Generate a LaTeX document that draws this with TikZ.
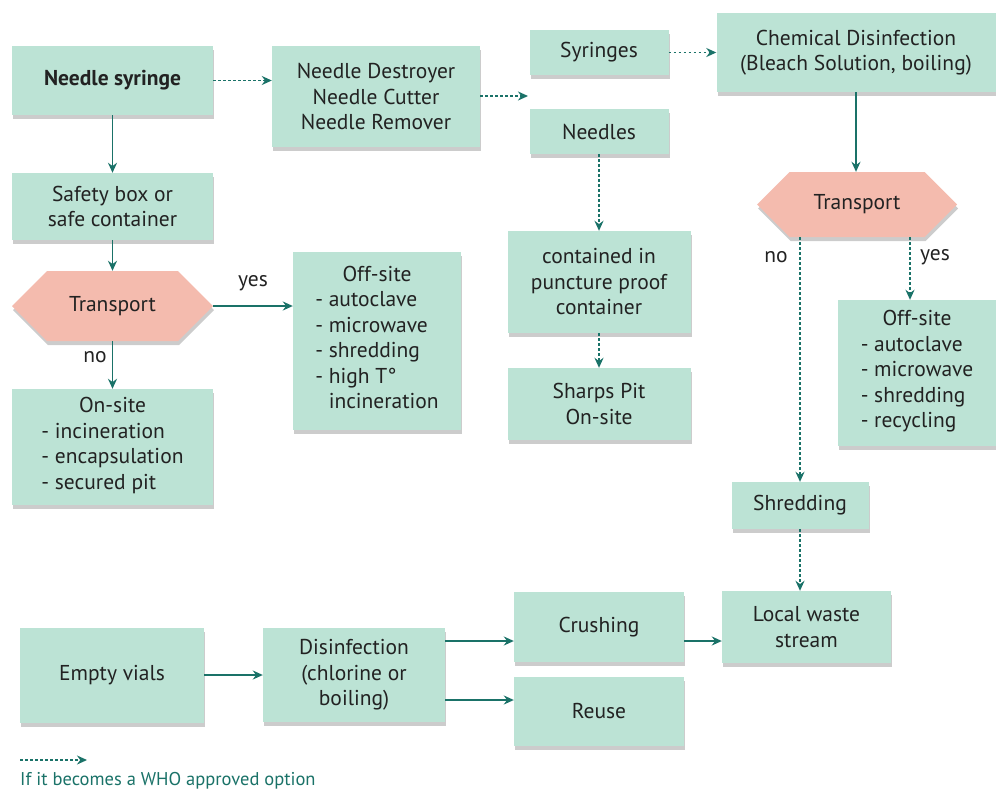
\documentclass[tikz,border=0pt]{standalone}
\usepackage{fontspec}
\setmainfont{PT Sans}
\usetikzlibrary{shapes.symbols,shadows,arrows.meta}
\definecolor{boxfill}{HTML}{BCE3D5}
\definecolor{hexfill}{HTML}{F4BBAE}
\definecolor{arrowc}{HTML}{1A7268}
\definecolor{txt}{HTML}{222222}
\tikzset{
  box/.style={rectangle, fill=boxfill, draw=none, text=txt, align=center, inner sep=0pt,
    drop shadow={shadow xshift=1pt, shadow yshift=-4pt, opacity=0.4},
    font=\fontsize{21.5}{25.5}\selectfont},
  hexbox/.style={signal, signal to=west and east, fill=hexfill, draw=none, text=txt, inner sep=0pt,
    drop shadow={shadow xshift=1pt, shadow yshift=-4pt, opacity=0.4},
    font=\fontsize{21.5}{25.5}\selectfont},
  solidarrow/.style={draw=arrowc, line width=1.8pt, -{Stealth[length=10pt,width=9pt]}},
  dotarrow/.style={solidarrow, dash pattern=on 2.5pt off 2.5pt},
  lbl/.style={text=txt, inner sep=0pt, font=\fontsize{21.5}{25.5}\selectfont}
}
\begin{document}
\begin{tikzpicture}[x=1pt,y=1pt]
\useasboundingbox (0,0) rectangle (996,-796);
\node[box, minimum width=201, minimum height=69] (ns) at (112.5,-80.5) {\bfseries Needle syringe};
\node[box, minimum width=208, minimum height=101] (nd) at (376,-96.5) {Needle Destroyer\\Needle Cutter\\Needle Remover};
\node[box, minimum width=139, minimum height=45] (syr) at (599,-52.5) {Syringes};
\node[box, minimum width=139, minimum height=45] (ndl) at (599,-131.5) {Needles};
\node[box, minimum width=279, minimum height=79] (chem) at (856,-52.5) {Chemical Disinfection\\(Bleach Solution, boiling)};
\node[hexbox, minimum width=200, minimum height=65] (trR) at (857,-204.5) {Transport};
\node[box, minimum width=201, minimum height=67] (sb) at (112.5,-206.5) {Safety box or\\safe container};
\node[hexbox, minimum width=201, minimum height=70] (trL) at (112.5,-306) {Transport};
\node[box, minimum width=201, minimum height=116] (on) at (112.5,-447) {On-site\\\begin{tabular}[t]{@{}l@{}}- incineration\\- encapsulation\\- secured pit\end{tabular}};
\node[box, minimum width=168, minimum height=178] (offL) at (377,-341) {Off-site\\\begin{tabular}[t]{@{}l@{}}- autoclave\\- microwave\\- shredding\\- high T°\\\phantom{- }incineration\end{tabular}};
\node[box, minimum width=183, minimum height=102] (cont) at (599,-282) {contained in\\puncture proof\\container};
\node[box, minimum width=183, minimum height=72] (sharp) at (599,-404) {Sharps Pit\\On-site};
\node[box, minimum width=158, minimum height=146] (offR) at (917,-373) {Off-site\\\begin{tabular}[t]{@{}l@{}}- autoclave\\- microwave\\- shredding\\- recycling\end{tabular}};
\node[box, minimum width=137, minimum height=47] (shred) at (800,-505.5) {Shredding};
\node[box, minimum width=169, minimum height=72] (local) at (806.5,-627) {Local waste\\stream};
\node[box, minimum width=184, minimum height=95] (ev) at (112,-675.5) {Empty vials};
\node[box, minimum width=182, minimum height=94] (dis) at (354,-675) {Disinfection\\(chlorine or\\boiling)};
\node[box, minimum width=170, minimum height=70] (cr) at (599,-627) {Crushing};
\node[box, minimum width=170, minimum height=69] (re) at (599,-711.5) {Reuse};
% connectors
\draw[dotarrow] (ns.east) -- (ns.east -| nd.west);
\coordinate (ndend) at (528,-96);
\draw[dotarrow] (nd.east |- ndend) -- (ndend);
\draw[dotarrow] (syr.east) -- (syr.east -| chem.west);
\draw[solidarrow] (chem.south) -- (chem.south |- trR.north);
\draw[dotarrow] (ndl.south) -- (cont.north);
\draw[dotarrow] (cont.south) -- (sharp.north);
\draw[dotarrow] (shred.north |- trR.south) -- (shred.north);
\draw[dotarrow] ([xshift=-7pt]offR.north |- trR.south) -- ([xshift=-7pt]offR.north);
\draw[dotarrow] (shred.south) -- (shred.south |- local.north);
\draw[solidarrow] (ns.south) -- (sb.north);
\draw[solidarrow] (sb.south) -- (trL.north);
\draw[solidarrow] (trL.south) -- (on.north);
\draw[solidarrow] (trL.east) -- (trL.east -| offL.west);
\draw[solidarrow] (ev.east |- 0,-675) -- (dis.west |- 0,-675);
\draw[solidarrow] (dis.east |- 0,-641) -- (cr.west |- 0,-641);
\draw[solidarrow] (dis.east |- 0,-700) -- (re.west |- 0,-700);
\draw[solidarrow] (cr.east |- 0,-641) -- (local.west |- 0,-641);
% labels
\node[lbl] (yesL) at (253,-283) {yes};
\node[lbl] (noL) at (95,-357) {no};
\node[lbl] (noR) at (776,-257) {no};
\node[lbl] (yesR) at (935,-257) {yes};
% legend
\coordinate (lg1) at (20,-760);
\coordinate (lg2) at (87,-760);
\draw[dotarrow] (lg1) -- (lg2);
\node[anchor=west, inner sep=0pt, text=arrowc, font=\fontsize{18.5}{21}\selectfont] (legend) at (20,-781) {If it becomes a WHO approved option};
\end{tikzpicture}
\end{document}
